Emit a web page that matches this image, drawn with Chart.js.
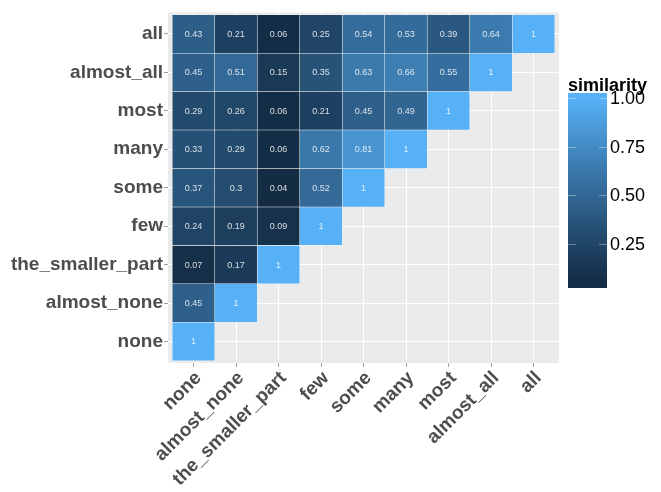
<!DOCTYPE html>
<html>
<head>
<meta charset="utf-8">
<script src="https://cdn.jsdelivr.net/npm/chart.js@4/dist/chart.umd.min.js"></script>
<style>
  body { margin: 0; background: #fff; }
  #wrap { width: 661px; height: 492px; }
</style>
</head>
<body>
<div id="wrap"><canvas id="chart" width="661" height="492"></canvas></div>
<script>
// quantifier words, bottom row / left column first
let words = ['none', 'almost_none', 'the_smaller_part', 'few', 'some', 'many', 'most', 'almost_all', 'all'];

// similarity per row (row word vs. column word), columns left to right
let simNone = [1];
let simAlmostNone = [0.45, 1];
let simSmallerPart = [0.07, 0.17, 1];
let simFew = [0.24, 0.19, 0.09, 1];
let simSome = [0.37, 0.3, 0.04, 0.52, 1];
let simMany = [0.33, 0.29, 0.06, 0.62, 0.81, 1];
let simMost = [0.29, 0.26, 0.06, 0.21, 0.45, 0.49, 1];
let simAlmostAll = [0.45, 0.51, 0.15, 0.35, 0.63, 0.66, 0.55, 1];
let simAll = [0.43, 0.21, 0.06, 0.25, 0.54, 0.53, 0.39, 0.64, 1];

let legendTicks = [0.25, 0.5, 0.75, 1.0];

let rows = [simNone, simAlmostNone, simSmallerPart, simFew, simSome, simMany, simMost, simAlmostAll, simAll];

// ggplot-like gradient, interpolated in Lab
function hexToRgb(h) {
    return [parseInt(h.slice(1, 3), 16), parseInt(h.slice(3, 5), 16), parseInt(h.slice(5, 7), 16)];
}
function toLin(c) { c /= 255; return c <= 0.04045 ? c / 12.92 : Math.pow((c + 0.055) / 1.055, 2.4); }
function fromLin(c) { c = c <= 0.0031308 ? 12.92 * c : 1.055 * Math.pow(c, 1 / 2.4) - 0.055; return Math.max(0, Math.min(255, Math.round(c * 255))); }
function rgbToLab(rgb) {
    let r = toLin(rgb[0]), g = toLin(rgb[1]), b = toLin(rgb[2]);
    let x = (r * 0.4124 + g * 0.3576 + b * 0.1805) / 0.95047;
    let y = (r * 0.2126 + g * 0.7152 + b * 0.0722);
    let z = (r * 0.0193 + g * 0.1192 + b * 0.9505) / 1.08883;
    let f = (t) => t > 0.008856 ? Math.cbrt(t) : 7.787 * t + 16 / 116;
    return [116 * f(y) - 16, 500 * (f(x) - f(y)), 200 * (f(y) - f(z))];
}
function labToRgb(lab) {
    let fy = (lab[0] + 16) / 116, fx = fy + lab[1] / 500, fz = fy - lab[2] / 200;
    let inv = (t) => t * t * t > 0.008856 ? t * t * t : (t - 16 / 116) / 7.787;
    let x = inv(fx) * 0.95047, y = inv(fy), z = inv(fz) * 1.08883;
    let r = x * 3.2406 + y * -1.5372 + z * -0.4986;
    let g = x * -0.9689 + y * 1.8758 + z * 0.0415;
    let b = x * 0.0557 + y * -0.2040 + z * 1.0570;
    return [fromLin(r), fromLin(g), fromLin(b)];
}
let lowLab = rgbToLab(hexToRgb('#132B43'));
let highLab = rgbToLab(hexToRgb('#56B1F7'));
let allVals = [].concat(...rows);
let vMin = Math.min(...allVals), vMax = Math.max(...allVals);
function fillFor(v) {
    let t = Math.max(0, Math.min(1, (v - vMin) / (vMax - vMin)));
    let lab = lowLab.map((l, i) => l + (highLab[i] - l) * t);
    let c = labToRgb(lab);
    return `rgb(${c[0]}, ${c[1]}, ${c[2]})`;
}

let cells = [];
rows.forEach((vals, r) => {
    vals.forEach((v, c) => {
        cells.push({ x: c + 0.5, y: [r, r + 1], v: v });
    });
});

let panelBg = {
    id: 'panelBg',
    beforeDraw(chart) {
        let ctx = chart.ctx, a = chart.chartArea;
        ctx.save();
        ctx.fillStyle = '#fff';
        ctx.fillRect(0, 0, chart.width, chart.height);
        ctx.fillStyle = '#EBEBEB';
        ctx.fillRect(a.left, a.top, a.right - a.left, a.bottom - a.top);
        ctx.restore();
    }
};

let cellText = {
    id: 'cellText',
    afterDatasetsDraw(chart) {
        let ctx = chart.ctx;
        let meta = chart.getDatasetMeta(0);
        ctx.save();
        ctx.font = '9px "Liberation Sans", Arial, sans-serif';
        ctx.fillStyle = 'rgba(255,255,255,0.82)';
        ctx.textAlign = 'center';
        ctx.textBaseline = 'middle';
        meta.data.forEach((el, i) => {
            ctx.fillText(String(cells[i].v), el.x, (el.y + el.base) / 2 + 0.5);
        });
        ctx.restore();
    }
};

// colourbar legend
let colorBar = {
    id: 'colorBar',
    afterDraw(chart) {
        let ctx = chart.ctx;
        let bx = 568, bw = 39, top = 93, bottom = 288;
        let y1 = 98, pxPer = 194.7;
        let yOf = (v) => y1 + (1 - v) * pxPer;
        ctx.save();
        for (let y = top; y < bottom; y++) {
            let v = 1 - (y + 0.5 - y1) / pxPer;
            ctx.fillStyle = fillFor(v);
            ctx.fillRect(bx, y, bw, 1);
        }
        ctx.strokeStyle = 'rgba(255,255,255,0.35)';
        ctx.lineWidth = 1;
        ctx.fillStyle = '#000';
        ctx.font = '18px "Liberation Sans", Arial, sans-serif';
        ctx.textAlign = 'left';
        ctx.textBaseline = 'middle';
        legendTicks.forEach((t) => {
            let y = Math.round(yOf(t)) + 0.5;
            ctx.beginPath();
            ctx.moveTo(bx, y); ctx.lineTo(bx + 8, y);
            ctx.moveTo(bx + bw - 8, y); ctx.lineTo(bx + bw, y);
            ctx.stroke();
            ctx.fillText(t.toFixed(2), bx + bw + 3, yOf(t) + 1);
        });
        ctx.font = 'bold 18px "Liberation Sans", Arial, sans-serif';
        ctx.textBaseline = 'alphabetic';
        ctx.fillText('similarity', bx, 91);
        ctx.restore();
    }
};

let tickFont = { family: '"Liberation Sans", Arial, sans-serif', size: 19, weight: 'bold' };

let graph = new Chart(document.getElementById('chart'), {
    type: 'bar',
    data: {
        datasets: [{
            data: cells,
            backgroundColor: cells.map((c) => fillFor(c.v)),
            borderColor: 'rgba(255,255,255,0.18)',
            borderWidth: 0.6,
            borderSkipped: false,
            barPercentage: 1,
            categoryPercentage: 1
        }]
    },
    options: {
        responsive: false,
        animation: false,
        layout: { padding: { top: 4, right: 102, bottom: 0, left: 0 } },
        plugins: {
            legend: { display: false },
            tooltip: { enabled: false }
        },
        scales: {
            x: {
                type: 'linear',
                min: -0.1,
                max: 9.1,
                offset: false,
                afterBuildTicks: (scale) => { scale.ticks = words.map((w, i) => ({ value: i + 0.5 })); },
                afterFit: (scale) => { scale.height = 129; },
                ticks: {
                    autoSkip: false,
                    minRotation: 45,
                    maxRotation: 45,
                    padding: 0,
                    labelOffset: 5,
                    color: '#4D4D4D',
                    font: tickFont,
                    callback: (v) => words[Math.round(v - 0.5)]
                },
                grid: { offset: false, color: '#FFFFFF', lineWidth: 1, tickColor: '#A0A0A0', tickLength: 4 },
                border: { display: false }
            },
            y: {
                type: 'linear',
                min: -0.06,
                max: 9.06,
                afterBuildTicks: (scale) => { scale.ticks = words.map((w, i) => ({ value: i + 0.5 })); },
                afterFit: (scale) => { scale.width = 168; },
                ticks: {
                    autoSkip: false,
                    padding: 1,
                    color: '#4D4D4D',
                    font: tickFont,
                    callback: (v) => words[Math.round(v - 0.5)]
                },
                grid: { color: '#FFFFFF', lineWidth: 1, tickColor: '#A0A0A0', tickLength: 4 },
                border: { display: false }
            }
        }
    },
    plugins: [panelBg, cellText, colorBar]
});
</script>
</body>
</html>
